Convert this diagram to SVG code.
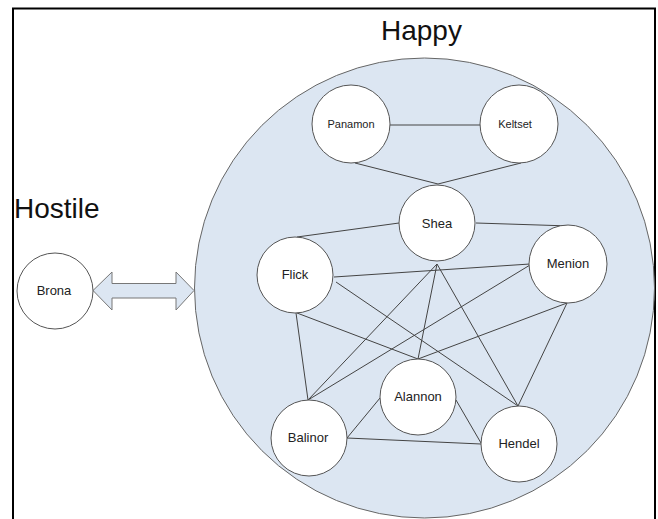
<svg xmlns="http://www.w3.org/2000/svg" width="658" height="519" viewBox="0 0 658 519">
<style>
  .node circle { fill: #ffffff; stroke: #555555; stroke-width: 1; }
  .lbl { font-family: "Liberation Sans", Arial, sans-serif; font-size: 13px; fill: #222222; text-anchor: middle; }
  .lbl.small { font-size: 11px; }
  .title { font-family: "Liberation Sans", Arial, sans-serif; font-size: 28px; fill: #111111; }
  #edges line { stroke: #444444; stroke-width: 1; }
</style>
<rect x="0" y="0" width="658" height="519" fill="#ffffff"/>
<rect x="13" y="8.5" width="642" height="520" fill="none" stroke="#000000" stroke-width="2"/>

<g id="happy-group">
  <circle cx="424.5" cy="288" r="230" fill="#dce6f2" stroke="#666666" stroke-width="1"/>
</g>

<text class="title" x="381" y="40">Happy</text>
<text class="title" x="14" y="218">Hostile</text>

<g id="edges">
  <line x1="390" y1="125" x2="481" y2="125"/>
  <line x1="355" y1="163" x2="438" y2="184"/>
  <line x1="521" y1="163" x2="438" y2="184"/>
  <line x1="399" y1="223" x2="297" y2="237"/>
  <line x1="476" y1="223" x2="570" y2="226"/>
  <line x1="334" y1="277" x2="530" y2="264"/>
  <line x1="336" y1="282" x2="518" y2="406"/>
  <line x1="297" y1="313" x2="418" y2="359"/>
  <line x1="296" y1="313" x2="308" y2="400"/>
  <line x1="437" y1="264" x2="308" y2="400"/>
  <line x1="437" y1="264" x2="418" y2="359"/>
  <line x1="437" y1="264" x2="518" y2="406"/>
  <line x1="530" y1="265" x2="308" y2="400"/>
  <line x1="567" y1="303" x2="418" y2="359"/>
  <line x1="567" y1="303" x2="518" y2="406"/>
  <line x1="347" y1="438" x2="380" y2="398"/>
  <line x1="347" y1="438" x2="481" y2="444"/>
  <line x1="456" y1="400" x2="481" y2="443"/>
  <polygon points="93,290.5 112,272 112,283.5 176,283.5 176,272 194,290.5 176,310 176,298 112,298 112,310" fill="#dce6f2" stroke="#777777" stroke-width="1"/>
</g>

<g id="node-panamon" class="node"><circle cx="351" cy="124" r="39"/><text class="lbl small" x="351" y="128">Panamon</text></g>
<g id="node-keltset" class="node"><circle cx="519" cy="124" r="39"/><text class="lbl small" x="515" y="128">Keltset</text></g>
<g id="node-shea" class="node"><circle cx="437" cy="223" r="38"/><text class="lbl" x="437" y="227.5">Shea</text></g>
<g id="node-flick" class="node"><circle cx="295" cy="275" r="38"/><text class="lbl" x="295" y="279">Flick</text></g>
<g id="node-menion" class="node"><circle cx="568" cy="264" r="39"/><text class="lbl" x="568" y="268">Menion</text></g>
<g id="node-alannon" class="node"><circle cx="418" cy="397" r="38"/><text class="lbl" x="418" y="401">Alannon</text></g>
<g id="node-balinor" class="node"><circle cx="309" cy="438" r="38"/><text class="lbl" x="308" y="442">Balinor</text></g>
<g id="node-hendel" class="node"><circle cx="519" cy="444" r="38"/><text class="lbl" x="519" y="448">Hendel</text></g>
<g id="node-brona" class="node"><circle cx="55" cy="291" r="38"/><text class="lbl" x="54" y="295">Brona</text></g>
</svg>
